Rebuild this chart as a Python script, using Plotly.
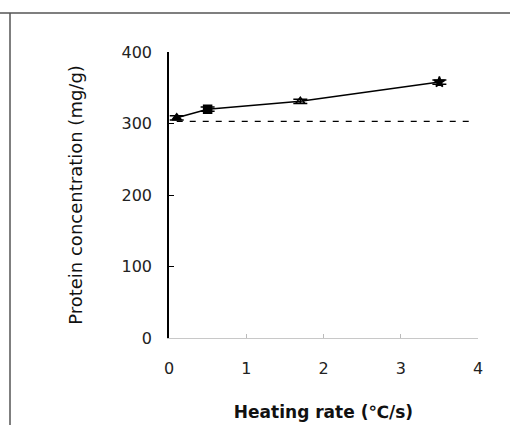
import plotly.graph_objects as go

heating_rate = [0.1, 0.5, 1.7, 3.5]
protein = [308, 320, 331, 358]
protein_err = [3, 3, 3, 3]
marker_symbols = ["triangle-up", "square", "triangle-up-open", "star"]
control_x = [0.1, 3.95]
control_y = [303, 303]

fig = go.Figure()
fig.add_trace(go.Scatter(
    x=control_x, y=control_y, mode="lines",
    line=dict(color="black", width=1.3, dash="6px,7px"),
    showlegend=False, hoverinfo="skip"))
fig.add_trace(go.Scatter(
    x=heating_rate, y=protein, mode="lines+markers",
    line=dict(color="black", width=1.5),
    marker=dict(symbol=marker_symbols, size=8, color="black",
                line=dict(color="black", width=1.5)),
    error_y=dict(type="data", array=protein_err, color="black",
                 thickness=1.5, width=7),
    showlegend=False))

font = "DejaVu Sans, Verdana, sans-serif"
fig.update_layout(
    width=510, height=425,
    margin=dict(l=169, r=32, t=52, b=87),
    paper_bgcolor="white", plot_bgcolor="white",
    font=dict(family=font, color="#222", size=15),
    xaxis=dict(range=[0, 4], tickvals=[0, 1, 2, 3, 4],
               ticks="inside", ticklen=4, tickcolor="#bbb",
               showline=True, linecolor="#c8c8c8", linewidth=1,
               showgrid=False, zeroline=False, automargin=False,
               ticklabelstandoff=16,
               tickfont=dict(size=16, family=font, color="#222"),
               title=dict(text="<b>Heating rate (℃/s)</b>", standoff=28,
                          font=dict(size=17, family=font, color="#111"))),
    yaxis=dict(range=[0, 400], tickvals=[0, 100, 200, 300, 400],
               ticks="inside", ticklen=5, tickcolor="black",
               showline=True, linecolor="black", linewidth=1.5,
               showgrid=False, zeroline=False, automargin=False,
               ticklabelstandoff=12,
               tickfont=dict(size=16, family=font, color="#222"),
               title=dict(text="Protein concentration (mg/g)", standoff=34,
                          font=dict(size=18, family=font, color="#111"))),
    shapes=[
        dict(type="line", xref="paper", yref="paper",
             x0=-169/309, x1=1.2, y0=1 + 39/286, y1=1 + 39/286,
             line=dict(color="#555", width=1.5)),
        dict(type="line", xref="paper", yref="paper",
             x0=-159/309, x1=-159/309, y0=-0.4, y1=1 + 39/286,
             line=dict(color="#555", width=1.5)),
    ],
)

fig.write_html("out.html")
